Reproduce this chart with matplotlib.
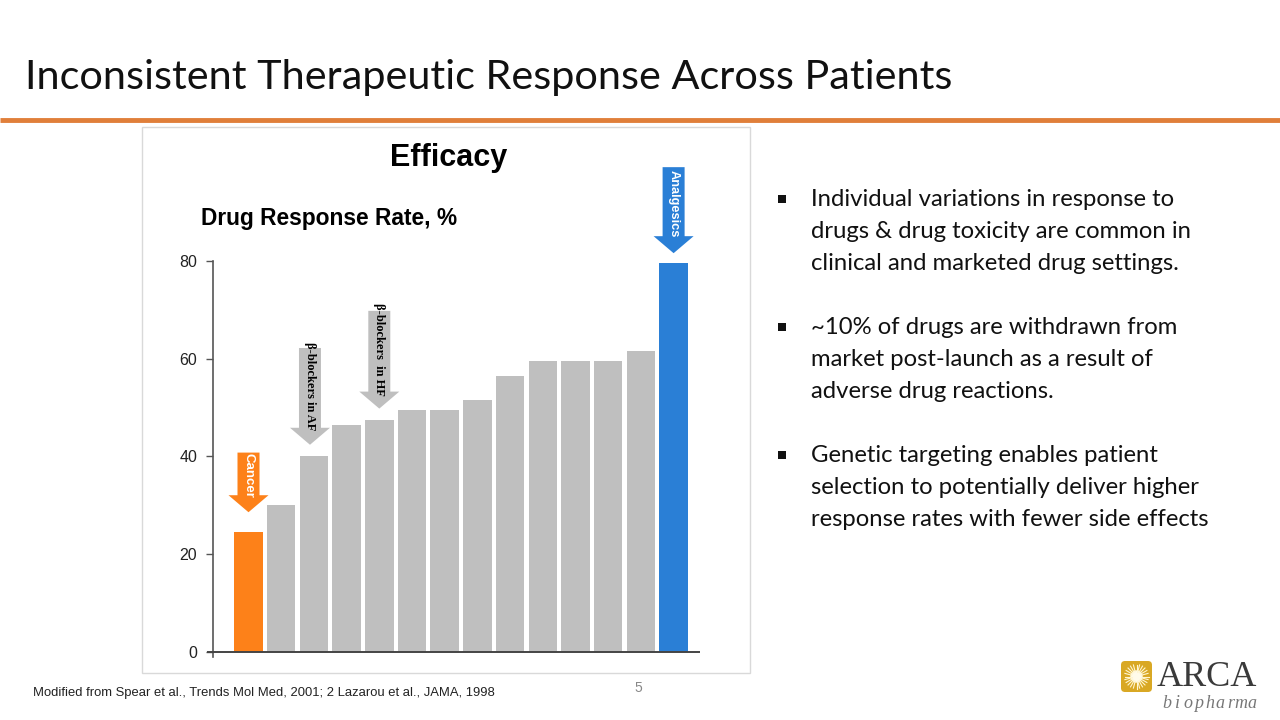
import matplotlib
matplotlib.use("Agg")
import matplotlib.pyplot as plt
from matplotlib.patches import Polygon, Rectangle, FancyBboxPatch
import numpy as np

# ---- data ----
categories = ["Cancer", "Drug 2", "β-blockers in AF", "Drug 4", "β-blockers in HF", "Drug 6",
              "Drug 7", "Drug 8", "Drug 9", "Drug 10", "Drug 11", "Drug 12", "Drug 13", "Analgesics"]
response_rate = [24.5, 30, 40, 46.5, 47.5, 49.5, 49.5, 51.5, 56.5, 59.5, 59.5, 59.5, 61.5, 79.5]
yticks = [0, 20, 40, 60, 80]
# arrow annotations: (bar index, label, tail y, tip y)
arrow_bars = [0, 2, 4, 13]
arrow_labels = ["Cancer", "β-blockers in AF", "β-blockers  in HF", "Analgesics"]
arrow_tail = [40.8, 62.2, 69.8, 99.2]
arrow_tip = [28.6, 42.4, 49.8, 81.6]

ORANGE = "#FD8119"
GRAY = "#BFBFBF"
BLUE = "#2A7FD6"
bar_colors = [ORANGE] + [GRAY] * 12 + [BLUE]
arrow_colors = [ORANGE, GRAY, GRAY, BLUE]
arrow_text_colors = ["white", "black", "black", "white"]

W, H = 1280, 720
fig = plt.figure(figsize=(12.8, 7.2), dpi=100)

def fx(px):
    return px / W

def fy(py):
    return 1 - py / H

# background overlay axes for slide decorations
bg = fig.add_axes([0, 0, 1, 1])
bg.set_xlim(0, W)
bg.set_ylim(H, 0)
bg.axis("off")

bg.text(25, 78, "Inconsistent Therapeutic Response Across Patients", fontsize=29.8,
        family="Lato", color="#111111", va="center", ha="left")
bg.plot([0, W], [119.5, 119.5], color="#E07F3A", lw=3.5, solid_capstyle="butt")

# chart panel
bg.add_patch(Rectangle((142, 127), 608, 546, facecolor="white", edgecolor="#D9D9D9", lw=1))
bg.text(449, 158, "Efficacy", fontsize=22, fontweight="heavy", family="Liberation Sans",
        ha="center", va="center", color="black")
bg.text(201, 218, "Drug Response Rate, %", fontsize=16.4, fontweight="bold",
        family="Liberation Sans", ha="left", va="center", color="black")

# bullets
bullets = [
    ["Individual variations in response to", "drugs & drug toxicity are common in",
     "clinical and marketed drug settings."],
    ["~10% of drugs are withdrawn from", "market post-launch as a result of",
     "adverse drug reactions."],
    ["Genetic targeting enables patient", "selection to potentially deliver higher",
     "response rates with fewer side effects"],
]
starts = [200, 328, 456]
for y0, lines in zip(starts, bullets):
    bg.add_patch(Rectangle((778, y0 - 5), 8, 8, facecolor="#111111", edgecolor="none"))
    for k, line in enumerate(lines):
        bg.text(811, y0 + 32 * k, line, fontsize=17.2, family="Lato", color="#111111",
                ha="left", va="center")

bg.text(33, 693, "Modified from Spear et al., Trends Mol Med, 2001; 2 Lazarou et al., JAMA, 1998",
        fontsize=9.4, family="Liberation Sans", color="#222222", ha="left", va="center")
bg.text(638, 688, "5", fontsize=10, family="Liberation Sans", color="#888888",
        ha="center", va="center")

# logo
bg.add_patch(FancyBboxPatch((1121, 661), 31, 31, boxstyle="round,pad=0,rounding_size=4",
                            facecolor="#D9A824", edgecolor="none"))
ang = np.linspace(0, 2 * np.pi, 24, endpoint=False)
for a in ang:
    bg.plot([1136.5 + 5 * np.cos(a), 1136.5 + 12 * np.cos(a)],
            [676.5 + 5 * np.sin(a), 676.5 + 12 * np.sin(a)], color="#FFF6D0", lw=0.8)
bg.add_patch(plt.Circle((1136.5, 676.5), 5.5, color="#FFFBEA"))
bg.text(1157, 678, "ARCA", fontsize=26, family="Liberation Serif", color="#3A3A3A",
        ha="left", va="center")
for k, ch in enumerate("biopharma"):
    bg.text(1167 + 10.6 * k, 704, ch, fontsize=13, family="Liberation Serif", style="italic",
            color="#777777", ha="center", va="center")

# ---- chart ----
x_left_px, x_right_px = 207, 700
y_top_px, y_bot_px = 261, 657
ppu_x = 32.7
ppu_y = (652 - 261) / 80.0
x0_center = 248.5
xlim = ((x_left_px - x0_center) / ppu_x, (x_right_px - x0_center) / ppu_x)
ylim = (-(y_bot_px - 652) / ppu_y, 80)

ax = fig.add_axes([fx(x_left_px), fy(y_bot_px), fx(x_right_px - x_left_px),
                   (y_bot_px - y_top_px) / H])
ax.patch.set_alpha(0)
x = np.arange(len(response_rate))
ax.bar(x, response_rate, width=0.87, color=bar_colors, zorder=2)
ax.set_xlim(*xlim)
ax.set_ylim(*ylim)
for s in ["top", "right", "bottom"]:
    ax.spines[s].set_visible(False)
ax.spines["left"].set_position(("data", xlim[0] + 5.5 / ppu_x))
ax.spines["left"].set_color("#555555")
ax.spines["left"].set_linewidth(1.2)
ax.axhline(0, color="#444444", lw=1.4, zorder=3)
ax.set_xticks([])
ax.set_yticks(yticks)
ax.set_yticklabels([str(t) for t in yticks], family="Liberation Sans", fontsize=11.5,
                   color="#222222")
ax.tick_params(axis="y", length=5, width=1, color="#555555", pad=6)

# arrows
shaft_w = 22 / ppu_x
head_w = 40 / ppu_x
head_len = 17 / ppu_y
for bi, lab, yt, ytip, col, tcol in zip(arrow_bars, arrow_labels, arrow_tail, arrow_tip,
                                         arrow_colors, arrow_text_colors):
    cx = x[bi]
    if bi == 2:
        cx -= 0.12
    yh = ytip + head_len
    pts = [(cx - shaft_w / 2, yt), (cx + shaft_w / 2, yt), (cx + shaft_w / 2, yh),
           (cx + head_w / 2, yh), (cx, ytip), (cx - head_w / 2, yh), (cx - shaft_w / 2, yh)]
    ax.add_patch(Polygon(pts, closed=True, facecolor=col, edgecolor="none", clip_on=False,
                         zorder=4))
    if tcol == "white":
        fs = 9.5 if bi == 0 else 9.2
        ax.text(cx, (yt + yh) / 2 - 0.4, lab, rotation=-90, ha="center", va="center",
                color=tcol, fontsize=fs, fontweight="bold", family="Liberation Sans",
                clip_on=False, zorder=5)
    else:
        ax.text(cx, (yt + yh) / 2 + 0.3, lab, rotation=-90, ha="center", va="center",
                color=tcol, fontsize=9, fontweight="bold", family="Liberation Serif",
                clip_on=False, zorder=5)

fig.savefig("out.png", dpi=100)
